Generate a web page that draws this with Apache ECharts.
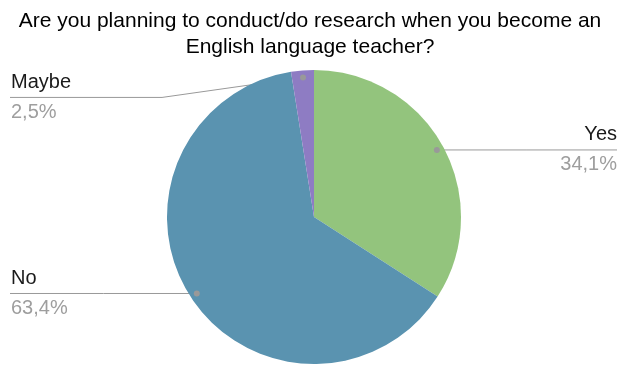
<!DOCTYPE html>
<html>
<head>
<meta charset="utf-8">
<script src="https://cdn.jsdelivr.net/npm/echarts@6/dist/echarts.min.js"></script>
<style>html,body{margin:0;padding:0;background:#fff}#c{width:620px;height:366px}</style>
</head>
<body>
<div id="c"></div>
<script>
var categories = ['Yes', 'No', 'Maybe'];
var percentages = [34.1, 63.4, 2.5];
var sliceColors = ['#93c47d', '#5a93b0', '#8e7cc3'];
var titleText = 'Are you planning to conduct/do research when you become an\nEnglish language teacher?';

var chart = echarts.init(document.getElementById('c'), null, {renderer: 'canvas'});
var FONT = '"Liberation Sans", Arial, sans-serif';
var CENTER = [314, 217];
var RADIUS = 147;

function fmt(v) { return v.toFixed(1).replace('.', ',') + '%'; }

var total = percentages.reduce(function (a, b) { return a + b; }, 0);
var mids = [];
var acc = 0;
percentages.forEach(function (v) { mids.push((acc + v / 2) / total * 100); acc += v; });

var pieData = categories.map(function (c, i) {
  return {name: c, value: percentages[i], itemStyle: {color: sliceColors[i]}};
});
var dotData = mids.map(function (m) { return [0.952, m]; });

function innerPoint(pts) {
  var p0 = pts[0], p1 = pts[1];
  var dx = p1[0] - p0[0], dy = p1[1] - p0[1];
  var len = Math.sqrt(dx * dx + dy * dy) || 1;
  return [p0[0] - dx / len * 7, p0[1] - dy / len * 7];
}

chart.setOption({
  animation: false,
  title: {
    text: titleText,
    left: 'center',
    top: 3,
    textStyle: {fontFamily: FONT, fontSize: 21, fontWeight: 'normal', color: '#000', lineHeight: 26}
  },
  polar: {center: CENTER, radius: RADIUS},
  angleAxis: {type: 'value', min: 0, max: 100, startAngle: 90, clockwise: true, show: false},
  radiusAxis: {type: 'value', min: 0, max: 1, show: false},
  series: [
    {
      type: 'pie',
      center: CENTER,
      radius: RADIUS,
      startAngle: 90,
      clockwise: true,
      avoidLabelOverlap: false,
      data: pieData,
      itemStyle: {borderWidth: 0},
      emphasis: {disabled: true},
      label: {
        show: true,
        position: 'outside',
        formatter: function (p) { return '{n|' + p.name + '}\n{v|' + fmt(p.value) + '}'; },
        rich: {
          n: {fontFamily: FONT, fontSize: 20, color: '#1a1a1a', lineHeight: 30},
          v: {fontFamily: FONT, fontSize: 20, color: '#9e9e9e', lineHeight: 30}
        }
      },
      labelLine: {show: true, length: 10, length2: 10, smooth: false, lineStyle: {color: '#999', width: 1}},
      labelLayout: function (params) {
        var W = chart.getWidth();
        var inner = innerPoint(params.labelLinePoints);
        var isLeft = inner[0] < CENTER[0];
        var lineY = inner[1];
        var pts;
        if (params.dataIndex === 2) {
          lineY = inner[1] + 20;
          var elbow = [inner[0] - 141, lineY];
          pts = [inner, elbow, [10, lineY]];
        } else {
          var endX = isLeft ? 10 : W - 3;
          pts = [inner, [(inner[0] + endX) / 2, lineY], [endX, lineY]];
        }
        return {
          x: isLeft ? 11 : W - 3,
          y: lineY,
          align: isLeft ? 'left' : 'right',
          verticalAlign: 'middle',
          labelLinePoints: pts
        };
      }
    },
    {
      type: 'scatter',
      coordinateSystem: 'polar',
      data: dotData,
      symbolSize: 6,
      itemStyle: {color: '#999', opacity: 1},
      silent: true,
      z: 5
    }
  ]
});
</script>
</body>
</html>
